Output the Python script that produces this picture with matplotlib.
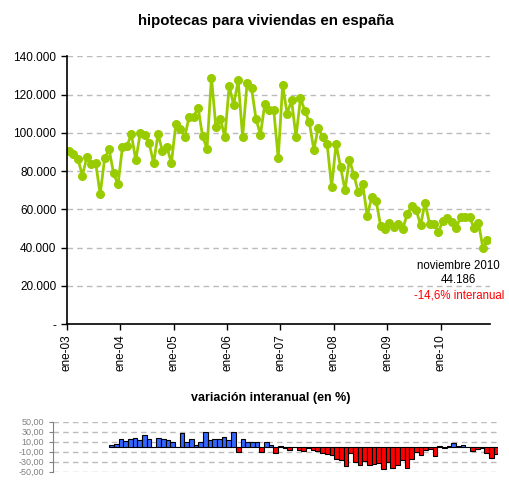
import matplotlib
matplotlib.use("Agg")
import matplotlib.pyplot as plt
from matplotlib.ticker import FuncFormatter

plt.rcParams['font.family'] = ['Liberation Sans', 'DejaVu Sans']

# hipotecas mensuales (miles), ene-03 .. nov-10
hip_2003 = [90.4, 89.0, 86.3, 77.7, 87.2, 83.7, 84.0, 67.9, 86.7, 91.4, 78.9, 73.0]
hip_2004 = [92.5, 93.0, 99.3, 85.6, 100.0, 98.8, 94.6, 84.2, 99.3, 90.4, 92.5, 84.2]
hip_2005 = [104.6, 102.2, 97.8, 108.5, 108.5, 113.2, 98.3, 91.7, 128.9, 102.9, 107.4, 97.8]
hip_2006 = [124.4, 114.5, 127.4, 97.8, 126.0, 123.4, 107.4, 99.0, 115.2, 111.8, 111.8, 86.8]
hip_2007 = [124.9, 110.0, 117.0, 97.9, 118.0, 111.5, 105.5, 91.1, 102.6, 97.7, 93.9, 71.8]
hip_2008 = [94.1, 82.3, 70.1, 86.0, 78.0, 68.9, 73.0, 56.5, 66.3, 64.5, 51.5, 49.7]
hip_2009 = [53.0, 50.9, 52.3, 50.0, 57.5, 61.8, 59.6, 51.8, 63.5, 52.6, 52.3, 48.2]
hip_2010 = [54.0, 55.3, 53.5, 50.5, 56.1, 55.8, 55.8, 50.5, 53.0, 39.8, 44.186]

# variacion interanual (%), ene-04 .. nov-10
var_2004 = [2.5, 4.5, 16, 10.5, 14.5, 18, 12.5, 24, 14.5, -1, 17.5, 15.5]
var_2005 = [13.5, 10, -1.5, 27.5, 9, 14.5, 4, 9.5, 30, 14, 16, 16]
var_2006 = [20, 12.5, 30, -11, 16, 10, 9.5, 8.5, -11, 9, 3.5, -12]
var_2007 = [0.3, -3.5, -7, 0, -6.5, -9.5, -2, -7.5, -9.5, -12, -15.5, -17.5]
var_2008 = [-24, -26, -39, -12.5, -31, -37, -29.5, -36, -35, -33, -45, -30]
var_2009 = [-43, -37, -26, -42, -25, -10, -16, -7, -4, -18, 0.8, -2]
var_2010 = [1, 7, 2, 4, -1, -8, -5, -3, -13, -22, -14.6]

years = ['ene-03', 'ene-04', 'ene-05', 'ene-06', 'ene-07', 'ene-08', 'ene-09', 'ene-10']

hip = [v * 1000 for v in hip_2003 + hip_2004 + hip_2005 + hip_2006 +
       hip_2007 + hip_2008 + hip_2009 + hip_2010]
var = var_2004 + var_2005 + var_2006 + var_2007 + var_2008 + var_2009 + var_2010
n = len(hip)
x = [i + 0.5 for i in range(n)]
xv = [i + 0.5 for i in range(n - len(var), n)]

fig = plt.figure(figsize=(5.10, 4.98), dpi=100)
fig.patch.set_facecolor('white')

fig.text(0.522, 0.958, 'hipotecas para viviendas en españa', ha='center', va='center',
         fontsize=10.8, fontweight='bold')

# grafico principal
ax = fig.add_axes([0.131, 0.349, 0.829, 0.538])
ax.plot(x, hip, color='#99CC00', lw=2, marker='o', ms=5.5, mec='#99CC00', mfc='#99CC00')
ax.set_xlim(0, n)
ax.set_ylim(0, 140000)
ax.set_yticks(range(0, 140001, 20000))
ax.yaxis.set_major_formatter(FuncFormatter(
    lambda v, p: '-' if v == 0 else f'{int(v):,}'.replace(',', '.')))
ax.set_xticks(range(0, n, 12))
ax.set_xticklabels(years, rotation=90)
ax.tick_params(axis='both', labelsize=8.5, length=4, width=1, direction='out')
ax.grid(axis='y', color='#BBBBBB', ls=(0, (4, 3)), lw=1)
ax.set_axisbelow(True)
for s in ('top', 'right'):
    ax.spines[s].set_visible(False)
for s in ('left', 'bottom'):
    ax.spines[s].set_linewidth(1.2)

ax.text(0.927, 0.218, 'noviembre 2010', transform=ax.transAxes, ha='center', va='center', fontsize=8.3)
ax.text(0.927, 0.165, '44.186', transform=ax.transAxes, ha='center', va='center', fontsize=8.3)
ax.text(0.927, 0.108, '-14,6% interanual', transform=ax.transAxes, ha='center', va='center',
        fontsize=8.3, color='red')

# variacion interanual
fig.text(0.53, 0.2, 'variación interanual (en %)', ha='center', va='center',
         fontsize=9, fontweight='bold')
bx = fig.add_axes([0.104, 0.053, 0.873, 0.1004])
colors = ['#3366FF' if v >= 0 else '#FF0000' for v in var]
bx.bar(xv, var, width=1.0, color=colors, edgecolor='black', linewidth=0.8)
bx.set_xlim(0, n)
bx.set_ylim(-50, 50)
bx.set_yticks([50, 30, 10, -10, -30, -50])
bx.yaxis.set_major_formatter(FuncFormatter(lambda v, p: f'{v:.2f}'.replace('.', ',')))
bx.set_xticks([])
bx.tick_params(axis='y', labelsize=6.5, labelcolor='#808080', length=3, color='#808080')
bx.grid(axis='y', color='#BBBBBB', ls=(0, (4, 3)), lw=1)
bx.set_axisbelow(True)
for s in ('top', 'right', 'bottom'):
    bx.spines[s].set_visible(False)
bx.spines['left'].set_color('#808080')

fig.savefig('out.png', dpi=100, facecolor='white')
